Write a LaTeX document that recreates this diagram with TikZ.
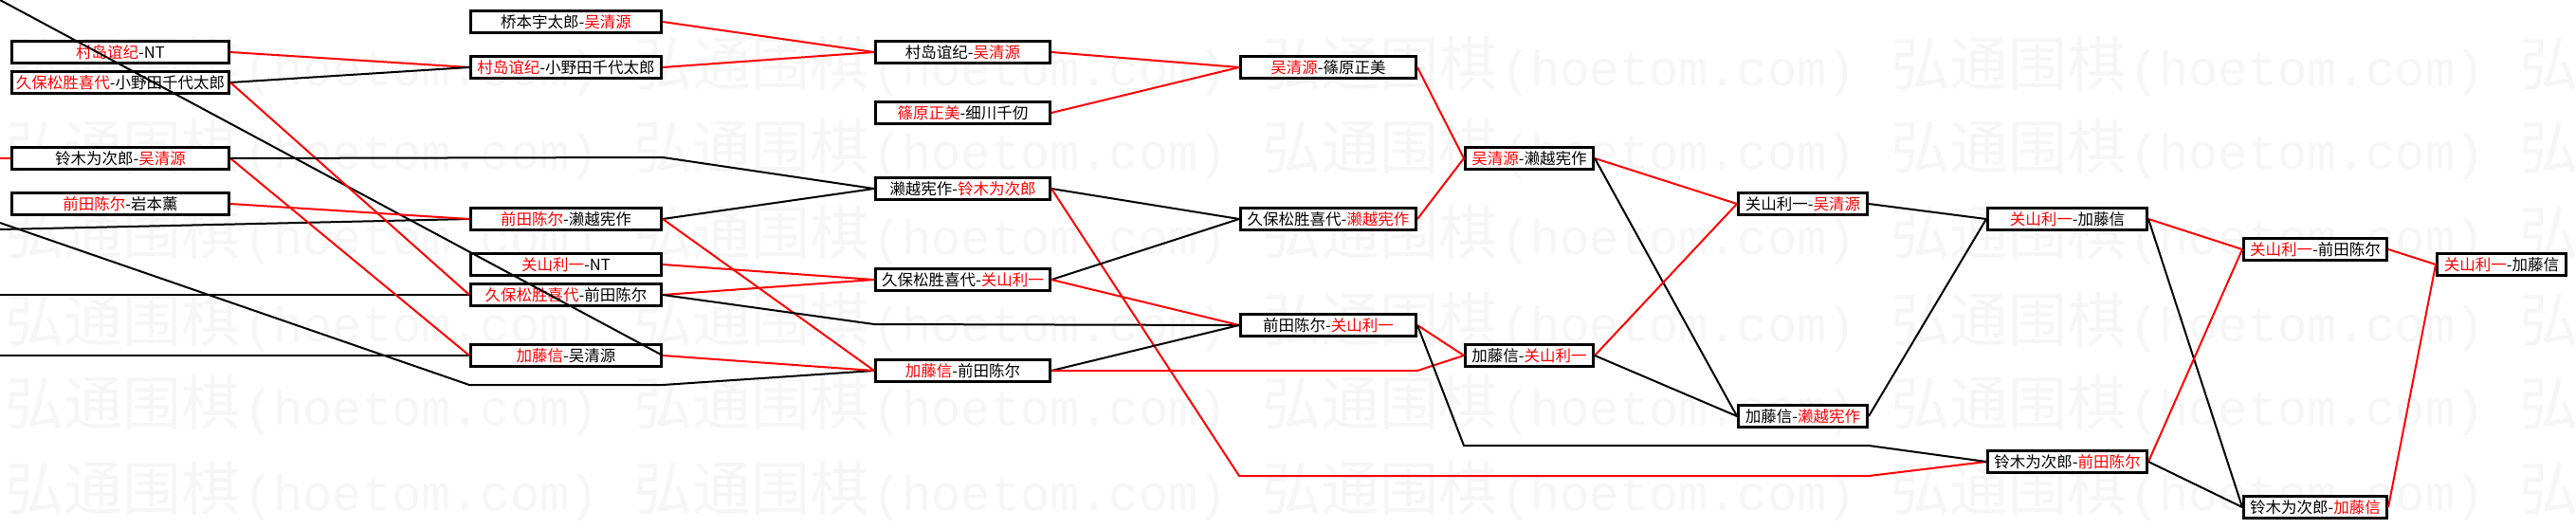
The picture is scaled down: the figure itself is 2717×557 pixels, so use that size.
\documentclass[tikz,border=0pt]{standalone}
\usepackage{fontspec}
\usepackage{xcolor}
\setmainfont{Noto Sans CJK SC}
\newfontfamily\wmcjk{Noto Sans CJK SC}
\newfontfamily\wmmono{Liberation Mono}
\newcommand{\hoetom}{\makebox[252pt][l]{\wmcjk\fontsize{62pt}{62pt}\selectfont 弘通围棋}\makebox[411pt][l]{\wmmono\fontsize{52pt}{52pt}\selectfont (hoetom.com)}}

\begin{document}
\begin{tikzpicture}[x=1pt,y=-1pt]
\tikzstyle{watermark} = [anchor=west, inner sep=0pt, text=black!3.5]
\tikzstyle{game} = [rectangle, draw=black, fill=white, line width=3pt, minimum height=23pt, inner sep=0pt, font=\fontsize{16.5pt}{18pt}\selectfont]
\tikzstyle{roundA} = [game, minimum width=229pt]
\tikzstyle{roundB} = [game, minimum width=201pt]
\tikzstyle{roundC} = [game, minimum width=184pt]
\tikzstyle{roundD} = [game, minimum width=185pt]
\tikzstyle{roundE} = [game, minimum width=135pt]
\tikzstyle{roundF} = [game, minimum width=136pt]
\tikzstyle{roundG} = [game, minimum width=168pt]
\tikzstyle{roundH} = [game, minimum width=151pt]
\tikzstyle{roundI} = [game, minimum width=136pt]
\tikzstyle{win} = [draw=red, line width=2pt]
\tikzstyle{lose} = [draw=black, line width=2pt]

\useasboundingbox (0,0) rectangle (2717,557);
\fill[white] (0,0) rectangle (2717,557);

\node(wmRow1) [watermark] at (5,70) {\hoetom\hoetom\hoetom\hoetom\hoetom};
\node(wmRow2) [watermark] at (5,158) {\hoetom\hoetom\hoetom\hoetom\hoetom};
\node(wmRow3) [watermark] at (5,248) {\hoetom\hoetom\hoetom\hoetom\hoetom};
\node(wmRow4) [watermark] at (5,340) {\hoetom\hoetom\hoetom\hoetom\hoetom};
\node(wmRow5) [watermark] at (5,428) {\hoetom\hoetom\hoetom\hoetom\hoetom};
\node(wmRow6) [watermark] at (5,518) {\hoetom\hoetom\hoetom\hoetom\hoetom};

\node(round1a) [roundA] at (127,55) {\textcolor{red}{村岛谊纪}-NT};
\node(round1b) [roundA] at (127,87) {\textcolor{red}{久保松胜喜代}-小野田千代太郎};
\node(round1c) [roundA] at (127,167) {铃木为次郎-\textcolor{red}{吴清源}};
\node(round1d) [roundA] at (127,215) {\textcolor{red}{前田陈尔}-岩本薰};

\node(round2a) [roundB] at (597,23) {桥本宇太郎-\textcolor{red}{吴清源}};
\node(round2b) [roundB] at (597,71) {\textcolor{red}{村岛谊纪}-小野田千代太郎};
\node(round2c) [roundB] at (597,231) {\textcolor{red}{前田陈尔}-濑越宪作};
\node(round2d) [roundB] at (597,279) {\textcolor{red}{关山利一}-NT};
\node(round2e) [roundB] at (597,311) {\textcolor{red}{久保松胜喜代}-前田陈尔};
\node(round2f) [roundB] at (597,375) {\textcolor{red}{加藤信}-吴清源};

\node(round3a) [roundC] at (1015.5,55) {村岛谊纪-\textcolor{red}{吴清源}};
\node(round3b) [roundC] at (1015.5,119) {\textcolor{red}{篠原正美}-细川千仞};
\node(round3c) [roundC] at (1015.5,199) {濑越宪作-\textcolor{red}{铃木为次郎}};
\node(round3d) [roundC] at (1015.5,295) {久保松胜喜代-\textcolor{red}{关山利一}};
\node(round3e) [roundC] at (1015.5,391) {\textcolor{red}{加藤信}-前田陈尔};

\node(round4a) [roundD] at (1401,71) {\textcolor{red}{吴清源}-篠原正美};
\node(round4b) [roundD] at (1401,231) {久保松胜喜代-\textcolor{red}{濑越宪作}};
\node(round4c) [roundD] at (1401,343) {前田陈尔-\textcolor{red}{关山利一}};

\node(round5a) [roundE] at (1613,167) {\textcolor{red}{吴清源}-濑越宪作};
\node(round5b) [roundE] at (1613,375) {加藤信-\textcolor{red}{关山利一}};

\node(round6a) [roundF] at (1901.5,215) {关山利一-\textcolor{red}{吴清源}};
\node(round6b) [roundF] at (1901.5,439) {加藤信-\textcolor{red}{濑越宪作}};

\node(round7a) [roundG] at (2180.5,231) {\textcolor{red}{关山利一}-加藤信};
\node(round7b) [roundG] at (2180.5,487) {铃木为次郎-\textcolor{red}{前田陈尔}};

\node(round8a) [roundH] at (2442,263) {\textcolor{red}{关山利一}-前田陈尔};
\node(round8b) [roundH] at (2442,535) {铃木为次郎-\textcolor{red}{加藤信}};

\node(final) [roundI] at (2638.5,279) {\textcolor{red}{关山利一}-加藤信};

\coordinate (edgeTop) at (0,0);
\coordinate (edgeSuzuki) at (0,167);
\coordinate (edgeDetour) at (0,235);
\coordinate (edgeSegoe) at (0,242);
\coordinate (edgeMaeda) at (0,311);
\coordinate (edgeKato) at (0,375);
\coordinate (bendSuzuki) at (699,166);
\coordinate (bendDetourA) at (495,406);
\coordinate (bendDetourB) at (699,406);
\coordinate (bendMaeda) at (922,342);
\coordinate (bendLongA) at (1307,502);
\coordinate (bendLongB) at (1971,502);
\coordinate (bendKato) at (1495,391);
\coordinate (bendLoserA) at (1544,470);
\coordinate (bendLoserB) at (1971,470);

\draw[win] (edgeSuzuki) -- (round1c.west);
\draw[lose] (edgeSegoe) -- (round2c.west);
\draw[lose] (edgeDetour) -- (bendDetourA) -- (bendDetourB) -- (round3e.west);
\draw[lose] (edgeMaeda) -- (round2e.west);
\draw[lose] (edgeKato) -- (round2f.west);
\draw[lose] (round2f.east) -- (edgeTop);

\draw[win] (round1a.east) -- (round2b.west);
\draw[lose] (round1b.east) -- (round2b.west);
\draw[win] (round1b.east) -- (round2e.west);
\draw[win] (round1c.east) -- (round2f.west);
\draw[lose] (round1c.east) -- (bendSuzuki) -- (round3c.west);
\draw[win] (round1d.east) -- (round2c.west);

\draw[win] (round2a.east) -- (round3a.west);
\draw[win] (round2b.east) -- (round3a.west);
\draw[lose] (round2c.east) -- (round3c.west);
\draw[win] (round2c.east) -- (round3e.west);
\draw[win] (round2d.east) -- (round3d.west);
\draw[win] (round2e.east) -- (round3d.west);
\draw[lose] (round2e.east) -- (bendMaeda) -- (round4c.west);
\draw[win] (round2f.east) -- (round3e.west);

\draw[win] (round3a.east) -- (round4a.west);
\draw[win] (round3b.east) -- (round4a.west);
\draw[lose] (round3c.east) -- (round4b.west);
\draw[win] (round3c.east) -- (bendLongA) -- (bendLongB) -- (round7b.west);
\draw[lose] (round3d.east) -- (round4b.west);
\draw[win] (round3d.east) -- (round4c.west);
\draw[lose] (round3e.east) -- (round4c.west);
\draw[win] (round3e.east) -- (bendKato) -- (round5b.west);

\draw[win] (round4a.east) -- (round5a.west);
\draw[win] (round4b.east) -- (round5a.west);
\draw[win] (round4c.east) -- (round5b.west);
\draw[lose] (round4c.east) -- (bendLoserA) -- (bendLoserB) -- (round7b.west);

\draw[win] (round5a.east) -- (round6a.west);
\draw[lose] (round5a.east) -- (round6b.west);
\draw[win] (round5b.east) -- (round6a.west);
\draw[lose] (round5b.east) -- (round6b.west);

\draw[lose] (round6a.east) -- (round7a.west);
\draw[lose] (round6b.east) -- (round7a.west);

\draw[win] (round7a.east) -- (round8a.west);
\draw[lose] (round7a.east) -- (round8b.west);
\draw[win] (round7b.east) -- (round8a.west);
\draw[lose] (round7b.east) -- (round8b.west);

\draw[win] (round8a.east) -- (final.west);
\draw[win] (round8b.east) -- (final.west);
\end{tikzpicture}
\end{document}
